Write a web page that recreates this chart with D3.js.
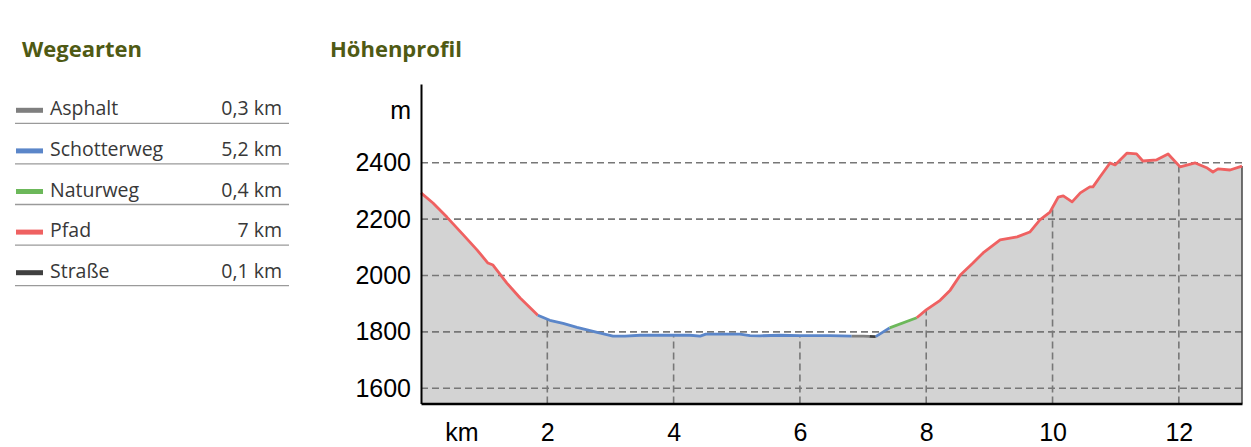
<!DOCTYPE html>
<html><head><meta charset="utf-8">
<script src="https://cdn.jsdelivr.net/npm/d3@7"></script>
<style>
html,body{margin:0;padding:0;background:#fff;}
svg{display:block;}
</style></head>
<body>
<svg id="chart" width="1251" height="447"></svg>
<script>
// ---- data ----
const legendTypes = ["Asphalt", "Schotterweg", "Naturweg", "Pfad", "Straße"];
const legendLengths = ["0,3 km", "5,2 km", "0,4 km", "7 km", "0,1 km"];
const typeColors = ["#7f7f7f", "#5b86c9", "#6cb85a", "#ef6161", "#404040"];

const distKm = [0, 0.19, 0.41, 0.67, 0.89, 1.06, 1.14, 1.36, 1.57, 1.85,
  2.04, 2.25, 2.47, 2.79, 3.04, 3.23, 3.47, 3.99, 4.26, 4.42, 4.51, 5.05, 5.21, 5.37, 5.68, 6.0, 6.48, 6.82,
  7.0, 7.10, 7.20, 7.42, 7.85,
  8.0, 8.22, 8.38, 8.54, 8.74, 8.9, 9.17, 9.44, 9.64, 9.8, 9.96, 10.09, 10.17, 10.31, 10.44, 10.59, 10.64,
  10.75, 10.91, 10.99, 11.18, 11.33, 11.43, 11.65, 11.83, 12.02, 12.26, 12.45, 12.54, 12.62, 12.81, 13.0];
const elevM = [2293, 2257, 2207, 2144, 2090, 2044, 2037, 1973, 1920, 1859,
  1841, 1830, 1816, 1798, 1785, 1785, 1788, 1788, 1788, 1785, 1792, 1792, 1787, 1786, 1788, 1787, 1787, 1785,
  1785, 1784, 1783, 1814, 1850,
  1878, 1912, 1948, 2002, 2044, 2080, 2126, 2137, 2154, 2197, 2225, 2278, 2282, 2261, 2293, 2314, 2314,
  2349, 2399, 2392, 2434, 2431, 2406, 2410, 2431, 2385, 2399, 2381, 2367, 2378, 2374, 2388];

// surface segments along the route (km)
const segFrom = [0, 1.85, 6.82, 7.10, 7.20, 7.42, 7.85];
const segTo   = [1.85, 6.82, 7.10, 7.20, 7.42, 7.85, 13.0];
const segType = ["Pfad", "Schotterweg", "Asphalt", "Straße", "Schotterweg", "Naturweg", "Pfad"];

const yTicks = [1600, 1800, 2000, 2200, 2400];
const xTicks = [2, 4, 6, 8, 10, 12];
const yDomain = [1546, 2679];
const xDomain = [0, 13];

// ---- drawing ----
const svg = d3.select("#chart");
const points = distKm.map((d, i) => ({ d, e: elevM[i] }));

const x = d3.scaleLinear().domain(xDomain).range([421, 1242]);
const y = d3.scaleLinear().domain(yDomain).range([403.5, 84]);
const color = d3.scaleOrdinal().domain(legendTypes).range(typeColors);

// titles
svg.append("text").attr("x", 22).attr("y", 57)
  .attr("font-family", "'Open Sans', sans-serif").attr("font-weight", 700)
  .attr("font-size", 22).attr("fill", "#4f5a14").text("Wegearten");
svg.append("text").attr("x", 330).attr("y", 57)
  .attr("font-family", "'Open Sans', sans-serif").attr("font-weight", 700)
  .attr("font-size", 22).attr("fill", "#4f5a14").text("Höhenprofil");

// legend
const leg = svg.append("g");
const rowY = d3.scaleLinear().domain([0, 4]).range([123.3, 285.7]);
legendTypes.forEach((t, i) => {
  const yy = rowY(i);
  leg.append("line").attr("x1", 15).attr("x2", 289).attr("y1", yy).attr("y2", yy)
    .attr("stroke", "#9a9a9a").attr("stroke-width", 1.3);
  leg.append("rect").attr("x", 16).attr("y", yy - 15.5).attr("width", 27).attr("height", 5)
    .attr("fill", color(t));
  leg.append("text").attr("x", 50).attr("y", yy - 8)
    .attr("font-family", "'Open Sans', sans-serif").attr("font-size", 19.5)
    .attr("fill", "#383838").text(t);
  leg.append("text").attr("x", 282).attr("y", yy - 8).attr("text-anchor", "end")
    .attr("font-family", "'Open Sans', sans-serif").attr("font-size", 19.5)
    .attr("fill", "#383838").text(legendLengths[i]);
});

// area
const area = d3.area().x(p => x(p.d)).y0(y(yDomain[0])).y1(p => y(p.e));
svg.append("defs").append("clipPath").attr("id", "areaClip")
  .append("path").attr("d", area(points));
svg.append("path").attr("d", area(points)).attr("fill", "#d3d3d3");

// horizontal grid
svg.append("g").selectAll("line").data(yTicks).join("line")
  .attr("x1", x(xDomain[0])).attr("x2", x(xDomain[1]))
  .attr("y1", d => y(d)).attr("y2", d => y(d))
  .attr("stroke", "#777").attr("stroke-width", 1.6).attr("stroke-dasharray", "7,4");

// vertical grid (only inside the profile)
svg.append("g").attr("clip-path", "url(#areaClip)").selectAll("line").data(xTicks).join("line")
  .attr("x1", d => x(d)).attr("x2", d => x(d))
  .attr("y1", y(yDomain[0])).attr("y2", y(yDomain[1]))
  .attr("stroke", "#777").attr("stroke-width", 1.6).attr("stroke-dasharray", "7,4");

// right edge of profile
svg.append("line").attr("x1", x(xDomain[1])).attr("x2", x(xDomain[1]))
  .attr("y1", y(elevM[elevM.length - 1])).attr("y2", y(yDomain[0]))
  .attr("stroke", "#444").attr("stroke-width", 1.5);

// profile line, coloured by surface
const line = d3.line().x(p => x(p.d)).y(p => y(p.e));
const eps = 1e-9;
segType.forEach((t, i) => {
  const pts = points.filter(p => p.d >= segFrom[i] - eps && p.d <= segTo[i] + eps);
  svg.append("path").attr("d", line(pts)).attr("fill", "none")
    .attr("stroke", color(t)).attr("stroke-width", 2.8)
    .attr("stroke-linejoin", "round").attr("stroke-linecap", "butt");
});

// axes
const yAxis = svg.append("g").attr("transform", `translate(${x(xDomain[0])},0)`)
  .call(d3.axisLeft(y).tickValues(yTicks).tickSize(0).tickSizeOuter(0).tickPadding(10).tickFormat(d3.format("d")));
yAxis.select(".domain").attr("stroke", "#000").attr("stroke-width", 2);
yAxis.selectAll("text").attr("font-family", "'Liberation Sans', Arial, sans-serif")
  .attr("font-size", 25).attr("fill", "#000");

const xAxis = svg.append("g").attr("transform", `translate(0,${y(yDomain[0])})`)
  .call(d3.axisBottom(x).tickValues(xTicks).tickSize(0).tickSizeOuter(0).tickPadding(20).tickFormat(d3.format("d")));
xAxis.select(".domain").attr("stroke", "#000").attr("stroke-width", 2.5);
xAxis.selectAll("text").attr("font-family", "'Liberation Sans', Arial, sans-serif")
  .attr("font-size", 25).attr("fill", "#000");

// unit labels
svg.append("text").attr("x", 411).attr("y", 119).attr("text-anchor", "end")
  .attr("font-family", "'Liberation Sans', Arial, sans-serif").attr("font-size", 25).text("m");
svg.append("text").attr("x", 462).attr("y", 441).attr("text-anchor", "middle")
  .attr("font-family", "'Liberation Sans', Arial, sans-serif").attr("font-size", 25).text("km");
</script>
</body></html>
